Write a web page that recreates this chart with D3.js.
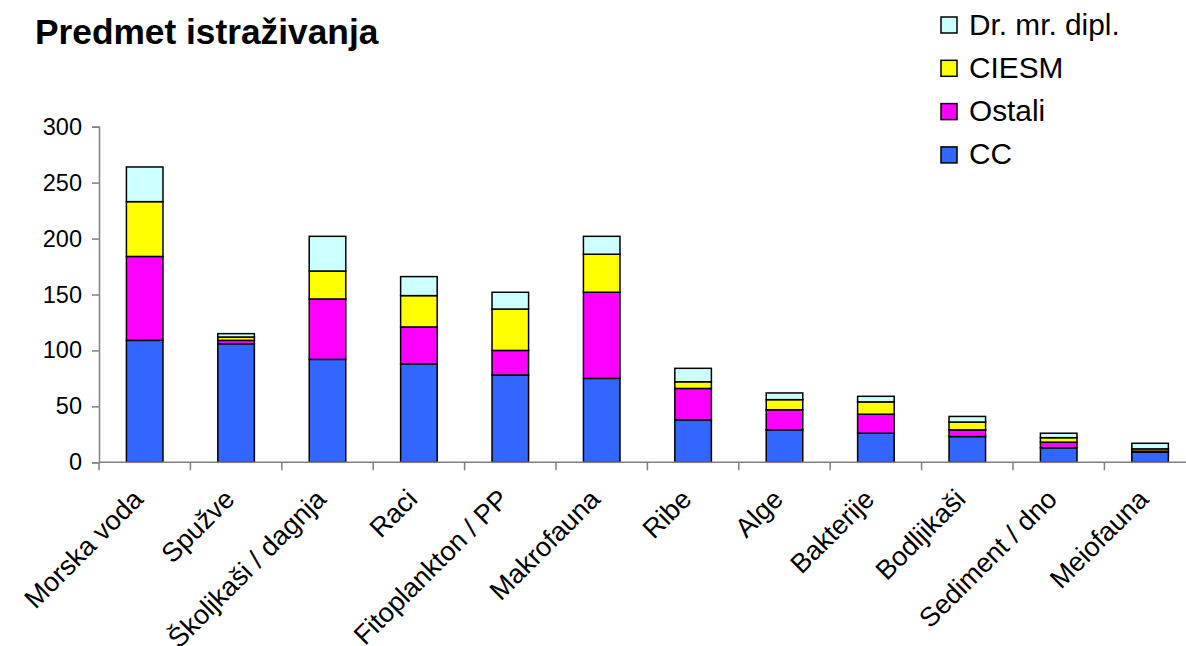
<!DOCTYPE html>
<html>
<head>
<meta charset="utf-8">
<script src="https://cdn.jsdelivr.net/npm/d3@7"></script>
<style>
html,body{margin:0;padding:0;background:#fff;}
svg{display:block;font-family:"Liberation Sans",Arial,sans-serif;}
</style>
</head>
<body>
<svg id="chart" width="1186" height="646"></svg>
<script>
const categories = ["Morska voda","Spužve","Školjkaši / dagnja","Raci","Fitoplankton / PP","Makrofauna","Ribe","Alge","Bakterije","Bodljikaši","Sediment / dno","Meiofauna"];
const seriesNames = ["CC","Ostali","CIESM","Dr. mr. dipl."];
const ccValues      = [109,106,92,88,78,75,38,29,26,23,13,9];
const ostaliValues  = [75,3,54,33,22,77,28,18,17,6,5,1];
const ciesmValues   = [49,3,25,28,37,34,6,9,11,7,4,2];
const drValues      = [31,3,31,17,15,16,12,6,5,5,4,5];
const yTicks = [0,50,100,150,200,250,300];
const colors = ["#3366FF","#FF00FF","#FFFF00","#CCFFFF"];

const rows = categories.map((c,i)=>({cat:c,"CC":ccValues[i],"Ostali":ostaliValues[i],"CIESM":ciesmValues[i],"Dr. mr. dipl.":drValues[i]}));
const stacked = d3.stack().keys(seriesNames)(rows);

const svg = d3.select("#chart");
const x0 = 99, step = 91.4;
const x = d3.scaleBand().domain(categories).range([x0, x0 + step*categories.length]).paddingInner(0.6).paddingOuter(0.3);
const y = d3.scaleLinear().domain([0,300]).range([462.3,126.7]);
const axisColor = "#808080";

// bars
stacked.forEach((s,si)=>{
  svg.append("g").selectAll("rect").data(s).join("rect")
    .attr("x", d=>x(d.data.cat))
    .attr("y", d=>y(d[1]))
    .attr("width", x.bandwidth())
    .attr("height", d=>y(d[0])-y(d[1]))
    .attr("fill", colors[si])
    .attr("stroke","#000")
    .attr("stroke-width",1.5);
});

// y axis
const yAxis = svg.append("g").attr("transform",`translate(${x0},0)`)
  .call(d3.axisLeft(y).tickValues(yTicks).tickSize(7).tickPadding(10).tickFormat(d3.format("d")));
yAxis.select(".domain").attr("stroke",axisColor).attr("stroke-width",1.5);
yAxis.selectAll(".tick line").attr("stroke",axisColor).attr("stroke-width",1.5);
yAxis.selectAll(".tick text").attr("font-size",23.5).attr("fill","#000").attr("font-family","Liberation Sans, Arial, sans-serif");

// x axis
const xg = svg.append("g");
xg.append("line").attr("x1",x0).attr("x2",1190).attr("y1",y(0)).attr("y2",y(0)).attr("stroke",axisColor).attr("stroke-width",1.5);
d3.range(categories.length+1).forEach(i=>{
  const xx = x0 + i*x.step();
  xg.append("line").attr("x1",xx).attr("x2",xx).attr("y1",y(0)).attr("y2",y(0)+8).attr("stroke",axisColor).attr("stroke-width",1.5);
});
xg.selectAll("text.cat").data(categories).join("text")
  .attr("class","cat")
  .attr("text-anchor","end")
  .attr("font-size",27)
  .attr("transform",d=>`translate(${x(d)+x.bandwidth()/2},${y(0)+38.5}) rotate(-45)`)
  .text(d=>d);

// title
svg.append("text").attr("x",35).attr("y",44).attr("font-size",35.3).attr("font-weight","bold").text("Predmet istraživanja");

// legend
const legendOrder = [3,2,1,0];
const lg = svg.append("g");
legendOrder.forEach((si,k)=>{
  const yy = 17 + k*43.3;
  lg.append("rect").attr("x",941).attr("y",yy).attr("width",16).attr("height",16).attr("fill",colors[si]).attr("stroke","#000").attr("stroke-width",1.5);
  lg.append("text").attr("x",969).attr("y",yy+17.5).attr("font-size",29.8).text(seriesNames[si]);
});
</script>
</body>
</html>
